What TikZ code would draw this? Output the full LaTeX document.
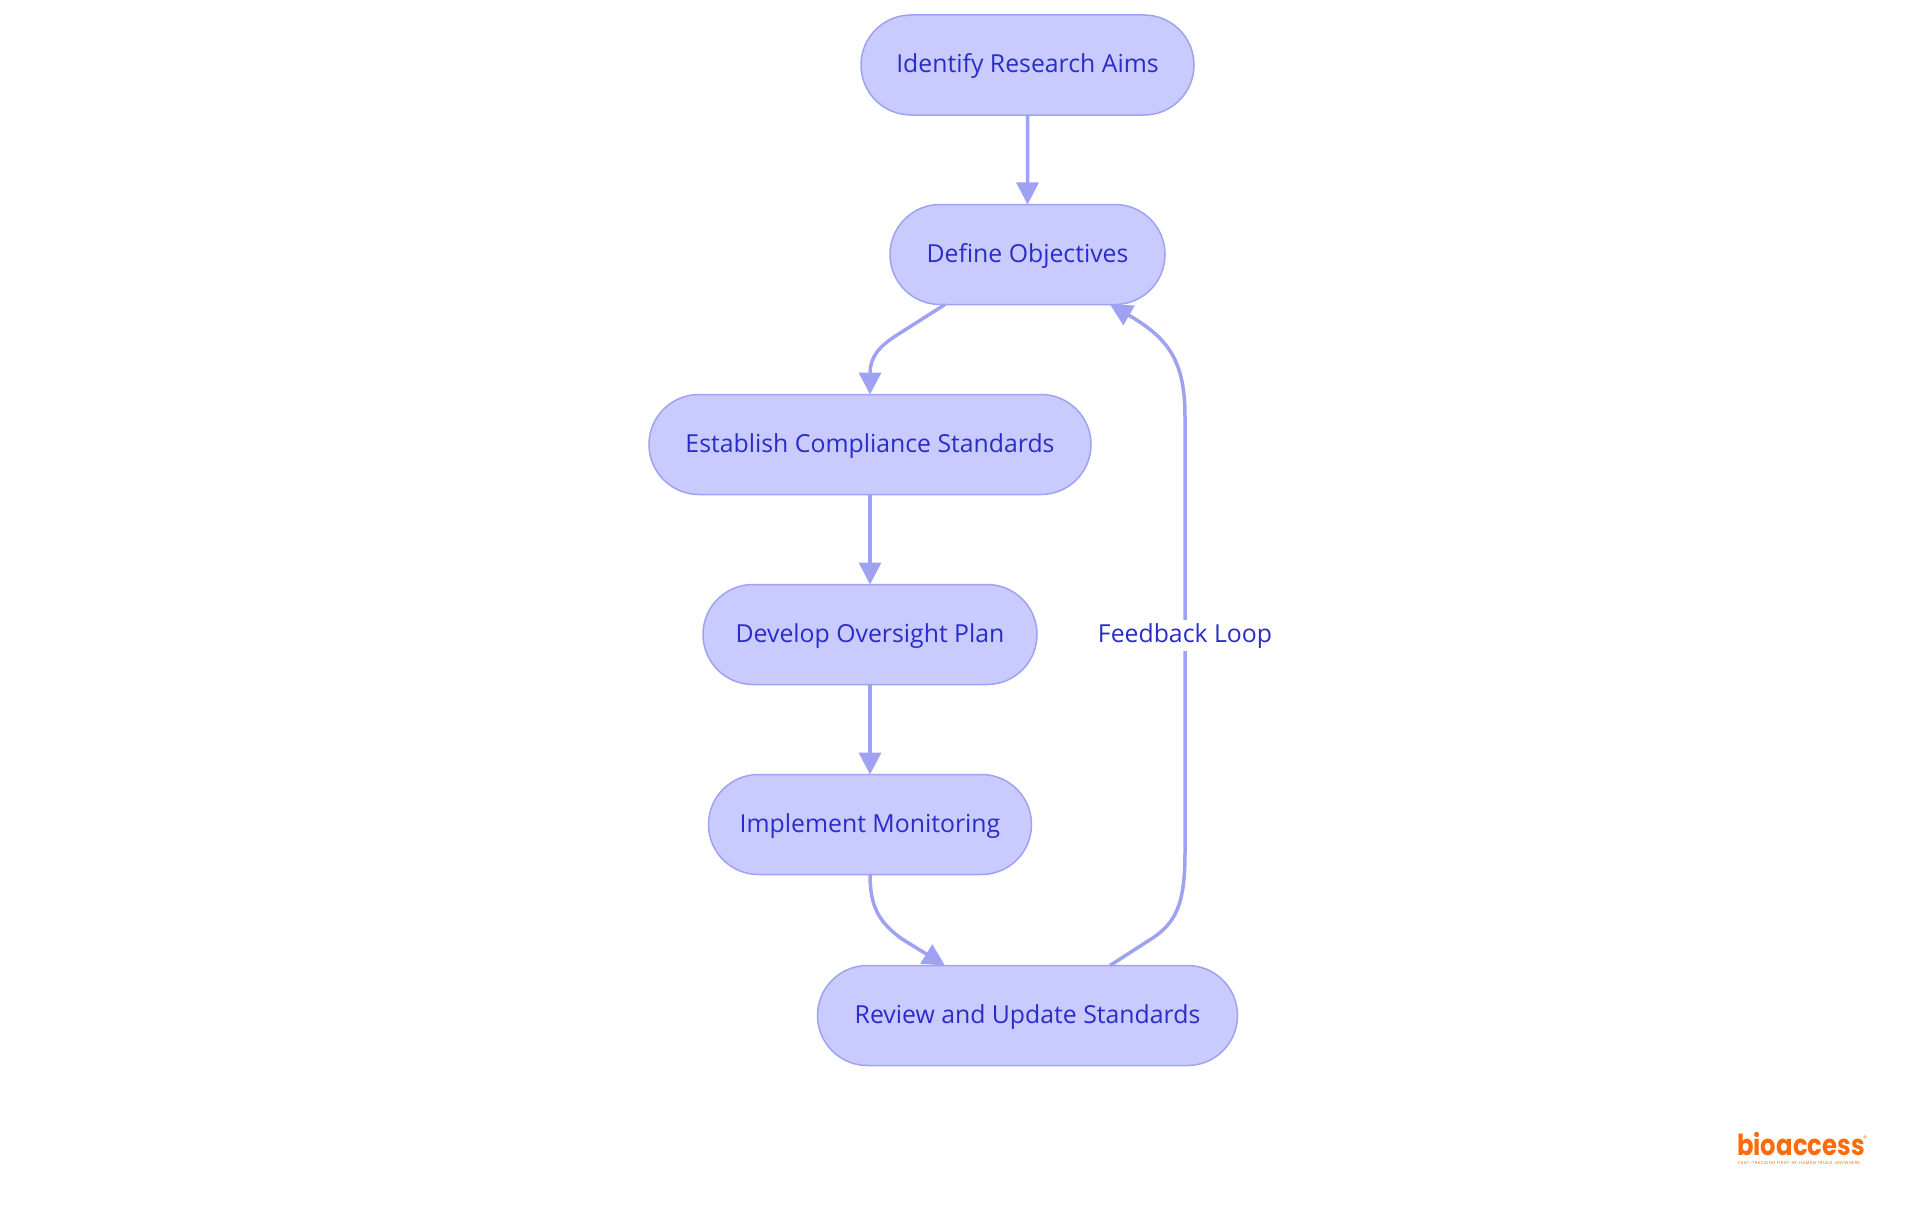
\documentclass[tikz,border=0pt]{standalone}
\usepackage{fontspec}
\setmainfont{Open Sans}
\newfontfamily\logofont[FakeStretch=0.84]{Poppins}
\newfontfamily\taglinefont[LetterSpace=9]{Poppins}
\usetikzlibrary{arrows.meta,shapes.misc}
\definecolor{boxfill}{HTML}{C9CBFF}
\definecolor{boxline}{HTML}{9FA2F3}
\definecolor{boxtext}{HTML}{2A2CC8}
\definecolor{logoorange}{HTML}{FF6B0A}
\tikzset{
stepbox/.style={rounded rectangle,draw=boxline,line width=1.5pt,fill=boxfill,text=boxtext,minimum height=100pt,inner xsep=0pt,outer sep=0pt,text height=19pt,text depth=4pt},
flow/.style={draw=boxline,line width=3.5pt,-{Triangle[length=22pt,width=22pt]}},
looplabel/.style={fill=white,text=boxtext,inner xsep=2pt,inner ysep=4pt,text height=19pt,text depth=4pt}
}
\begin{document}
\begin{tikzpicture}[x=1pt,y=-1pt,font=\fontsize{24.8}{30}\selectfont,line join=round]
\useasboundingbox (0,0) rectangle (1920,1215);
\node[stepbox,minimum width=333pt] (aims) at (1027.5,65) {Identify Research Aims};
\node[stepbox,minimum width=275pt] (objectives) at (1027.5,254.5) {Define Objectives};
\node[stepbox,minimum width=442pt] (standards) at (870,444.5) {Establish Compliance Standards};
\node[stepbox,minimum width=334pt] (plan) at (870,634.5) {Develop Oversight Plan};
\node[stepbox,minimum width=323pt] (monitoring) at (870,824.5) {Implement Monitoring};
\node[stepbox,minimum width=420pt] (review) at (1027.5,1015.5) {Review and Update Standards};
\draw[flow] (aims)--(objectives);
\draw[flow] ([xshift=-82.5pt]objectives.south)--(897,335)..controls (878,347) and (870,358)..(standards.north);
\draw[flow] (standards)--(plan);
\draw[flow] (plan)--(monitoring);
\draw[flow] (monitoring.south)..controls (870,905) and (878,922)..(902,939)--([xshift=-82.5pt]review.north);
\draw[flow] ([xshift=82.5pt]review.north)--(1148,941)..controls (1176,924) and (1185,905)..(1185,852)--node[looplabel]{Feedback Loop}(1185,418)..controls (1185,365) and (1172,340)..([xshift=82.5pt]objectives.south);
\node[text=logoorange,inner sep=0pt,anchor=base west,text depth=0pt,font=\logofont\bfseries\fontsize{29}{30}\selectfont] (logo) at (1737,1155) {bioaccess};
\node[text=logoorange,inner sep=0pt,anchor=north west,font=\taglinefont\fontsize{4.2}{5}\selectfont] (tagline) at (1738,1161) {FAST-TRACKING FIRST-IN-HUMAN TRIALS, ANYWHERE};
\node[text=logoorange,inner sep=0pt,font=\logofont\fontsize{8}{9}\selectfont] (mark) at (1865,1139) {®};
\end{tikzpicture}
\end{document}
